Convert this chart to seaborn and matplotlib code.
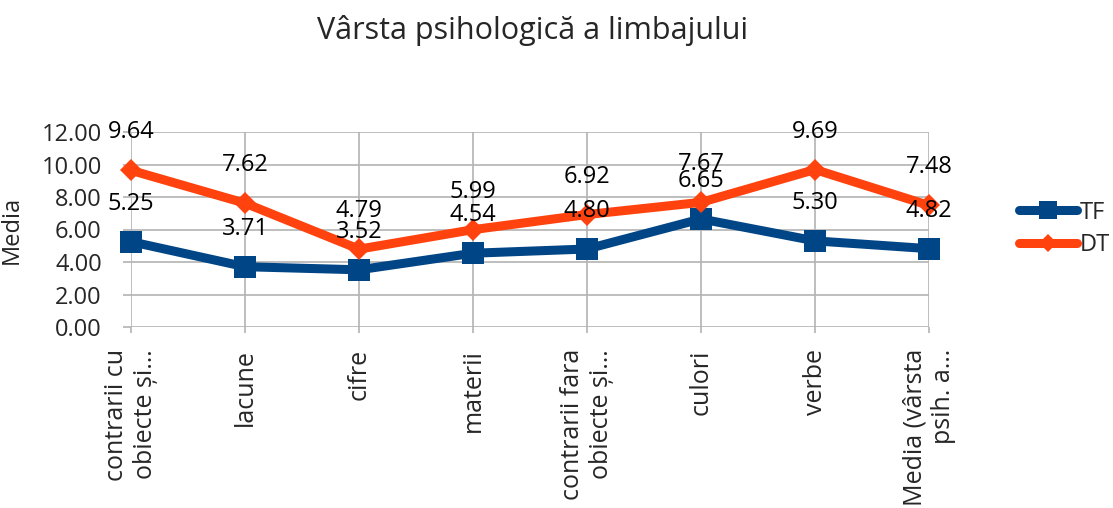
import matplotlib
matplotlib.use("Agg")
import matplotlib.pyplot as plt
import seaborn as sns
import numpy as np
import pandas as pd

categories = ["contrarii cu\nobiecte și…", "lacune", "cifre", "materii",
              "contrarii fara\nobiecte și…", "culori", "verbe",
              "Media (vârsta\npsih. a…"]
tf_values = [5.25, 3.71, 3.52, 4.54, 4.80, 6.65, 5.30, 4.82]
dt_values = [9.64, 7.62, 4.79, 5.99, 6.92, 7.67, 9.69, 7.48]
y_ticks = [0, 2, 4, 6, 8, 10, 12]

TF_COLOR = "#004586"
DT_COLOR = "#ff420e"
GRID = "#b3b3b3"
FS = 17

sns.set_theme(style="white")
plt.rcParams["font.family"] = ["Open Sans", "DejaVu Sans"]

fig = plt.figure(figsize=(11.13, 5.08), dpi=100)
ax = fig.add_axes([131 / 1113, 1 - 327 / 508, (929 - 131) / 1113, (327 - 132) / 508])

x = np.arange(len(categories))
df = pd.DataFrame({"x": x, "TF": tf_values, "DT": dt_values})

sns.lineplot(data=df, x="x", y="TF", ax=ax, color=TF_COLOR, linewidth=6.5,
             marker="s", markersize=16, markeredgewidth=0, label="TF",
             clip_on=False, zorder=3)
sns.lineplot(data=df, x="x", y="DT", ax=ax, color=DT_COLOR, linewidth=6.5,
             marker="D", markersize=11.5, markeredgewidth=0, label="DT",
             clip_on=False, zorder=4)

for vals in (tf_values, dt_values):
    for xi, v in zip(x, vals):
        ax.annotate(f"{v:.2f}", (xi, v), xytext=(0, 38), textcoords="offset pixels",
                    ha="center", va="center", fontsize=FS, color="black", zorder=6,
                    annotation_clip=False)

ax.set_xlim(0, len(categories) - 1)
ax.set_ylim(0, 12)
ax.set_yticks(y_ticks)
ax.set_yticklabels([f"{t:.2f}" for t in y_ticks], fontsize=FS)
ax.set_xticks(x)
ax.set_xticklabels(categories, rotation=90, fontsize=18, va="top", ha="center",
                   multialignment="right", linespacing=1.2)
ax.grid(True, color=GRID, linewidth=1.2)
ax.set_axisbelow(True)
for s in ax.spines.values():
    s.set_visible(False)
ax.tick_params(axis="y", length=6, color=GRID, width=1.2, pad=15, left=True)
ax.tick_params(axis="x", length=4, color=GRID, width=1.2, pad=12, bottom=True)

ax.set_xlabel("")
ax.set_ylabel("Media", fontsize=FS)
ax.yaxis.set_label_coords(-0.135, 0.5)

handles, labels = ax.get_legend_handles_labels()
ax.get_legend().remove()
fig.legend(handles, labels, loc="center left",
           bbox_to_anchor=(1019 / 1113, 1 - 229 / 508), frameon=False,
           fontsize=FS, handlelength=2.45, markerscale=0.78, labelspacing=0.36,
           handletextpad=0.12, borderpad=0, borderaxespad=0)

fig.text(533 / 1113, 1 - 30 / 508, "Vârsta psihologică a limbajului",
         ha="center", va="center", fontsize=22)

fig.savefig("out.png", dpi=100)
